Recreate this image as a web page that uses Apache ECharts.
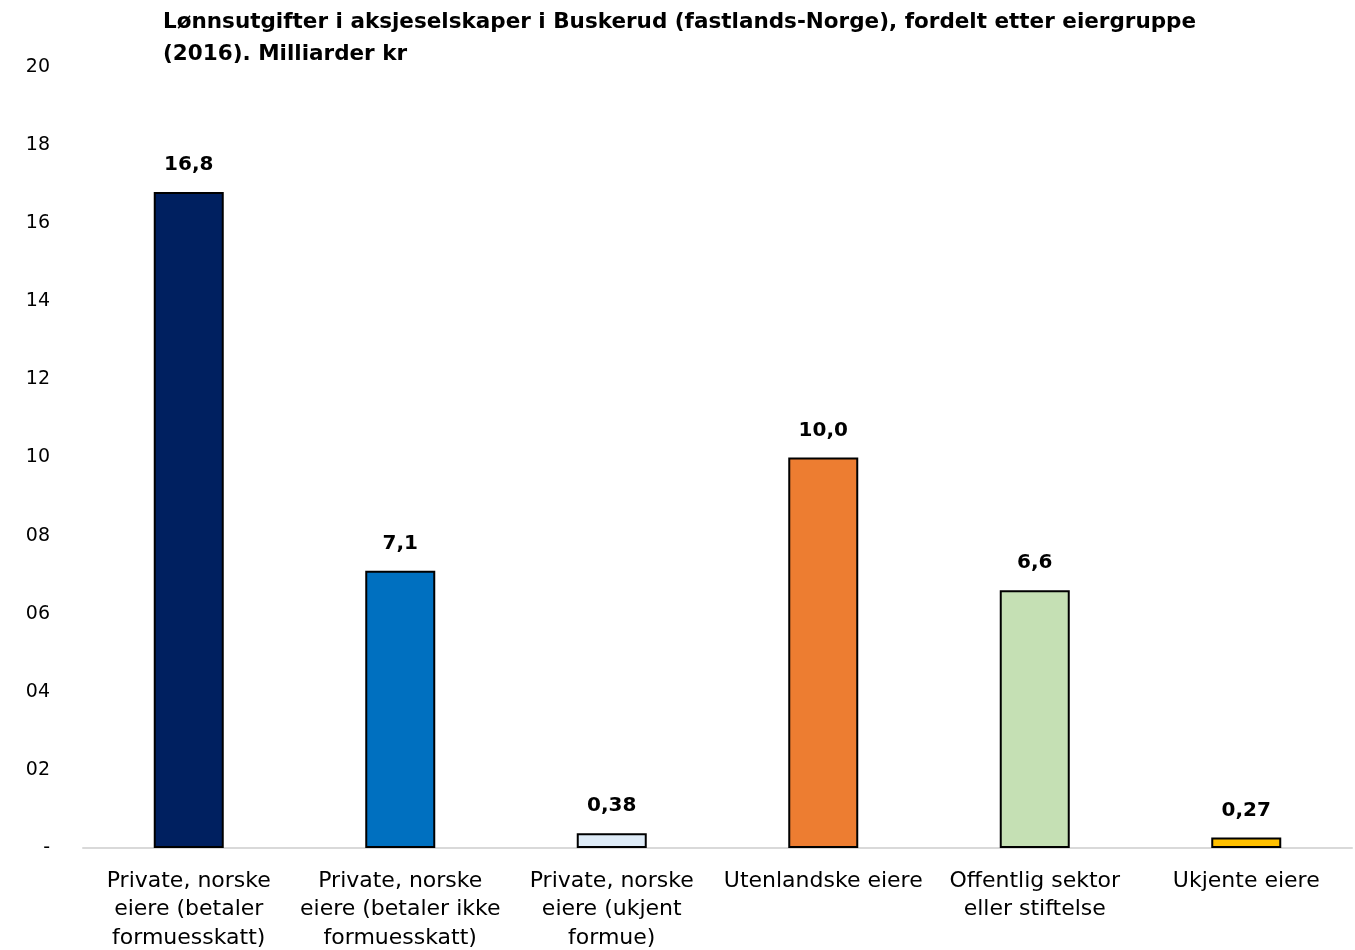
<!DOCTYPE html>
<html>
<head>
<meta charset="utf-8">
<script src="https://cdn.jsdelivr.net/npm/echarts@6/dist/echarts.min.js"></script>
<style>
html,body{margin:0;padding:0;background:#fff;}
#chart{width:1355px;height:950px;}
</style>
</head>
<body>
<div id="chart"></div>
<script>
const titleText = "Lønnsutgifter i aksjeselskaper i Buskerud (fastlands-Norge), fordelt etter eiergruppe\n(2016). Milliarder kr";
const categories = [
  "Private, norske\neiere (betaler\nformuesskatt)",
  "Private, norske\neiere (betaler ikke\nformuesskatt)",
  "Private, norske\neiere (ukjent\nformue)",
  "Utenlandske eiere",
  "Offentlig sektor\neller stiftelse",
  "Ukjente eiere"
];
const values = [16.8, 7.1, 0.38, 10.0, 6.6, 0.27];
const barColors = ["#002060", "#0070C0", "#DEEBF7", "#ED7D31", "#C5E0B4", "#FFC000"];
const yMin = 0, yMax = 20, yStep = 2;

const FONT = "'DejaVu Sans', sans-serif";
const chart = echarts.init(document.getElementById('chart'), null, {renderer: 'canvas'});
chart.setOption({
  animation: false,
  backgroundColor: '#fff',
  title: {
    text: titleText,
    left: 163, top: 6, padding: 0,
    textStyle: {fontFamily: FONT, fontSize: 21.5, fontWeight: 'bold', color: '#000', lineHeight: 32}
  },
  grid: {left: 83, right: 3, top: 67, bottom: 102, containLabel: false, outerBoundsMode: 'none'},
  xAxis: {
    type: 'category',
    data: categories,
    axisLine: {show: true, lineStyle: {color: '#d9d9d9', width: 2}},
    axisTick: {show: false},
    axisLabel: {fontFamily: FONT, fontSize: 22, color: '#000', lineHeight: 28.5, margin: 19, interval: 0}
  },
  yAxis: {
    type: 'value',
    min: yMin, max: yMax, interval: yStep,
    splitLine: {show: false},
    axisLine: {show: false},
    axisTick: {show: false},
    axisLabel: {
      fontFamily: FONT, fontSize: 19, color: '#000', margin: 33,
      formatter: v => v === 0 ? '-' : String(v).padStart(2, '0')
    }
  },
  series: [{
    type: 'bar',
    data: values.map((v, i) => ({value: v, itemStyle: {color: barColors[i]}})),
    barWidth: 70,
    itemStyle: {borderColor: '#000', borderWidth: 2},
    label: {
      show: true, position: 'top', distance: 17,
      fontFamily: FONT, fontSize: 20, fontWeight: 'bold', color: '#000',
      formatter: p => (p.value < 1 ? p.value.toFixed(2) : p.value.toFixed(1)).replace('.', ',')
    }
  }]
});
</script>
</body>
</html>
